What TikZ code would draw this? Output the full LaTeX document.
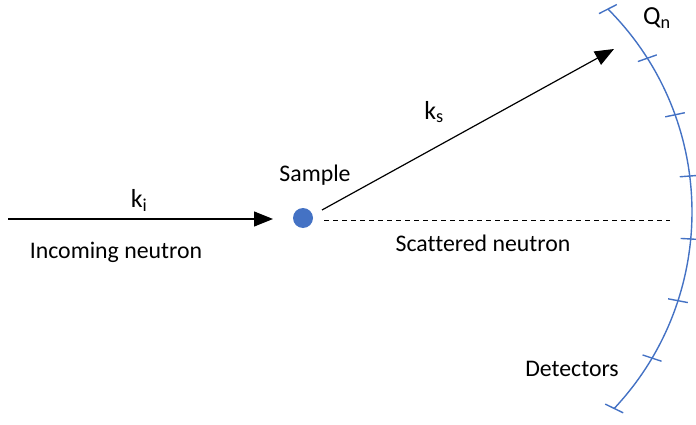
\documentclass[tikz,border=0pt]{standalone}
\usepackage{fontspec}
\setmainfont{Carlito}[Ligatures=NoCommon]
\usetikzlibrary{arrows.meta,calc}
\definecolor{detblue}{HTML}{4472C4}
\tikzset{
  lbl/.style={inner sep=0pt, font=\fontsize{23.8}{28}\selectfont},
  klbl/.style={inner sep=0pt, font=\fontsize{26}{30}\selectfont},
  vec/.style={line width=1.2pt, -{Triangle[length=19pt,width=15pt]}},
  det/.style={detblue, line width=1.4pt},
}
\begin{document}
\begin{tikzpicture}[x=1pt,y=1pt]
\useasboundingbox (0,0) rectangle (696,-425);
% coordinates
\coordinate (inStart) at (8,-219);
\coordinate (inEnd) at (273,-219);
\coordinate (scStart) at (322,-210);
\coordinate (scEnd) at (614,-49);
\coordinate (dashStart) at (324,-220);
\coordinate (dashEnd) at (670,-220);
\coordinate (C) at (405,-212);
% sample
\node[circle, fill=detblue, minimum size=20pt, inner sep=0pt] (sample) at (303,-218) {};
% arrows
\draw[vec] (inStart) -- (inEnd);
\draw[vec] (scStart) -- (scEnd);
\draw[line width=1pt, dash pattern=on 5pt off 4pt] (dashStart) -- (dashEnd);
% detector arc
\draw[det] ($(C)+(45:287)$) arc[start angle=45, end angle=-43.2, radius=287];
\foreach \a in {45,32.4,19.8,7.2,-5.4,-18,-30.6,-43.2}{
  \draw[det] ($(C)+(\a:287)+(0.6*\a:-10)$) -- ($(C)+(\a:287)+(0.6*\a:10)$);
}
% labels
\node[klbl] (ki) at (139,-200) {k\textsubscript{i}};
\node[lbl] (incoming) at (116,-252) {Incoming neutron};
\node[lbl] (samplelbl) at (315,-175) {Sample};
\node[klbl] (ks) at (434,-112) {k\textsubscript{s}};
\node[lbl] (scattered) at (483,-243) {Scattered neutron};
\node[lbl] (detectors) at (572,-369) {Detectors};
\node[klbl] (qn) at (657,-18) {Q\textsubscript{n}};
\end{tikzpicture}
\end{document}
